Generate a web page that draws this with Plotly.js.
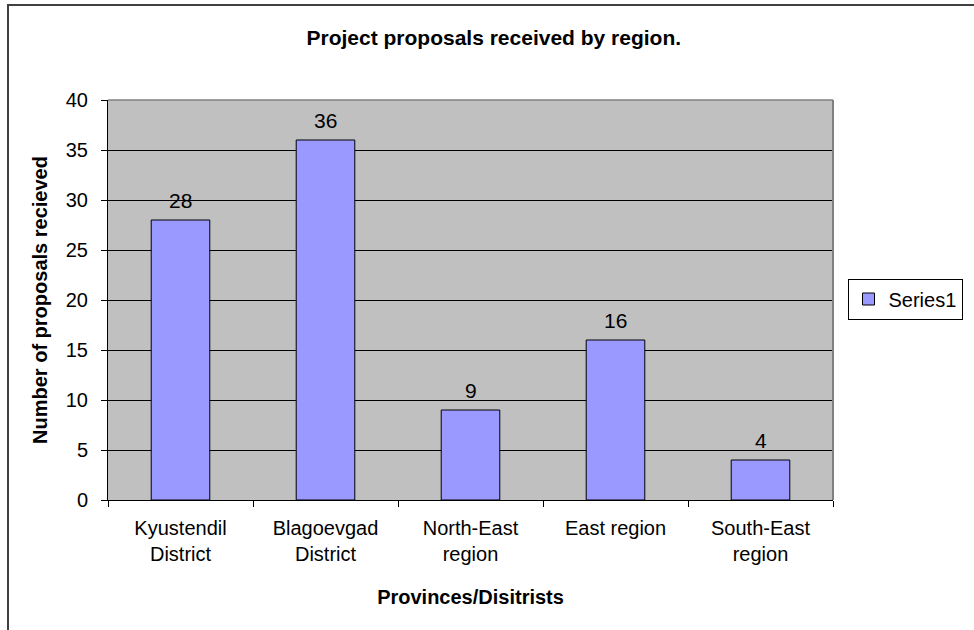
<!DOCTYPE html>
<html>
<head>
<meta charset="utf-8">
<script src="https://cdn.plot.ly/plotly-3.0.1.min.js"></script>
<style>
  html, body { margin: 0; padding: 0; background: #fff; overflow: hidden; }
  #wrap { position: relative; width: 974px; height: 630px; }
  #chart { position: absolute; left: 0; top: 0; width: 974px; height: 630px; }
  #frame { position: absolute; left: 7px; top: 4px; width: 1000px; height: 700px;
           border-left: 2px solid #404040; border-top: 2px solid #404040; pointer-events: none; }
</style>
</head>
<body>
<div id="wrap">
  <div id="chart"></div>
  <div id="frame"></div>
</div>
<script>
const categories = ["Kyustendil<br>District", "Blagoevgad<br>District", "North-East<br>region", "East region", "South-East<br>region"];
const values = [28, 36, 9, 16, 4];
const seriesName = "Series1";
const yTicks = [0, 5, 10, 15, 20, 25, 30, 35, 40];

const FONT = "Liberation Sans, Arial, sans-serif";

const trace = {
  type: "bar",
  x: categories,
  y: values,
  name: seriesName,
  marker: { color: "#9999FF", line: { color: "#000000", width: 1 } },
  showlegend: true,
  hoverinfo: "none"
};

const annotations = categories.map((c, i) => ({
  x: c, y: values[i], xref: "x", yref: "y",
  text: String(values[i]), showarrow: false,
  yanchor: "middle", yshift: 20,
  font: { family: FONT, size: 21, color: "#000" }
}));

const layout = {
  width: 974, height: 630,
  margin: { l: 108, r: 123, t: 100, b: 130 },
  paper_bgcolor: "#ffffff",
  plot_bgcolor: "#C0C0C0",
  font: { family: FONT, color: "#000" },
  title: {
    text: "<b>Project proposals received by region.</b>",
    font: { family: FONT, size: 21, color: "#000" },
    x: 0.507, xref: "container", xanchor: "center",
    y: 0.94, yref: "container", yanchor: "middle"
  },
  bargap: 0.596,
  xaxis: {
    type: "category",
    tickson: "boundaries",
    ticks: "outside", ticklen: 6, tickcolor: "#000", tickwidth: 1,
    showline: true, linecolor: "#000", linewidth: 1,
    showgrid: false,
    tickfont: { family: FONT, size: 20, color: "#000" },
    ticklabelstandoff: 10,
    title: { text: "<b>Provinces/Disitrists</b>", font: { family: FONT, size: 20, color: "#000" }, standoff: 25 },
    fixedrange: true
  },
  yaxis: {
    range: [0, 40],
    tickvals: yTicks,
    ticktext: yTicks.map(String),
    ticks: "outside", ticklen: 6, tickcolor: "#000", tickwidth: 1,
    showline: true, linecolor: "#000", linewidth: 1,
    showgrid: true, gridcolor: "#000", gridwidth: 1,
    zeroline: false,
    tickfont: { family: FONT, size: 20, color: "#000" },
    ticklabelstandoff: 9,
    title: { text: "<b>Number of proposals recieved</b>", font: { family: FONT, size: 20, color: "#000" }, standoff: 12 },
    fixedrange: true
  },
  legend: {
    x: 1.020, xanchor: "left",
    y: 0.5025, yanchor: "middle",
    bordercolor: "#000", borderwidth: 1,
    bgcolor: "#fff",
    font: { family: FONT, size: 20, color: "#000" },
    itemwidth: 30
  },
  shapes: [
    { type: "line", xref: "paper", yref: "paper", x0: 0, x1: 1, y0: 1, y1: 1, line: { color: "#808080", width: 1.5 }, layer: "above" },
    { type: "line", xref: "paper", yref: "paper", x0: 1, x1: 1, y0: 0, y1: 1, line: { color: "#808080", width: 2 }, layer: "above" }
  ],
  annotations: annotations
};

Plotly.newPlot("chart", [trace], layout, { displayModeBar: false, staticPlot: true });
</script>
</body>
</html>
